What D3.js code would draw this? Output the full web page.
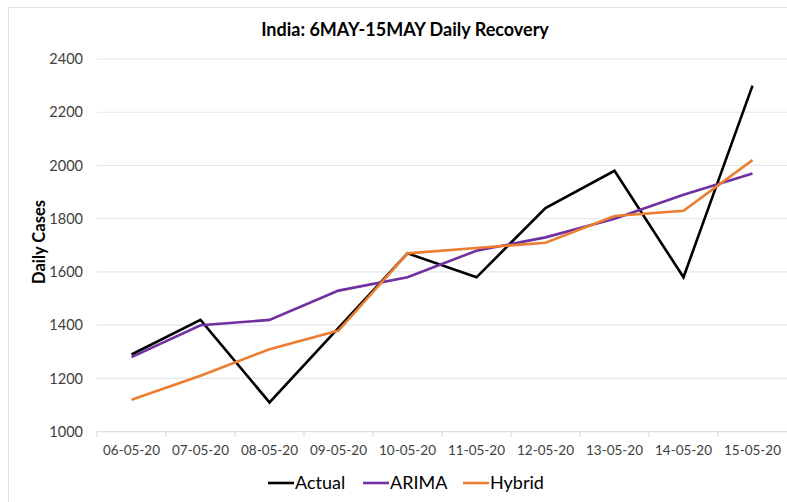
<!DOCTYPE html>
<html>
<head>
<meta charset="utf-8">
<script src="https://cdn.jsdelivr.net/npm/d3@7"></script>
<style>
  body { margin: 0; background: #fff; }
  svg { font-family: Lato, "Open Sans", sans-serif; }
</style>
</head>
<body>
<div id="chart"></div>
<script>
// Chart values
const dates = ["06-05-20", "07-05-20", "08-05-20", "09-05-20", "10-05-20",
               "11-05-20", "12-05-20", "13-05-20", "14-05-20", "15-05-20"];
const actual = [1290, 1420, 1110, 1390, 1670, 1580, 1840, 1980, 1580, 2300];
const arima  = [1280, 1400, 1420, 1530, 1580, 1680, 1730, 1800, 1890, 1970];
const hybrid = [1120, 1210, 1310, 1380, 1670, 1690, 1710, 1810, 1830, 2020];
const yTicks = [1000, 1200, 1400, 1600, 1800, 2000, 2200, 2400];

const series = [
    { name: "Actual", values: actual, color: "#000000" },
    { name: "ARIMA", values: arima, color: "#7030a0" },
    { name: "Hybrid", values: hybrid, color: "#ed7d31" }
];

const width = 787;
const height = 502;
const margin = { top: 59, right: 0, bottom: 70, left: 97 };

const svg = d3.select("#chart")
    .append("svg")
    .attr("width", width)
    .attr("height", height);

// outer chart border (runs off the right and bottom edges)
svg.append("rect")
    .attr("x", 8.5)
    .attr("y", 7.5)
    .attr("width", width + 10)
    .attr("height", height + 10)
    .attr("fill", "none")
    .attr("stroke", "#dde0e8")
    .attr("stroke-width", 1);

const x = d3.scaleBand()
    .domain(dates)
    .range([margin.left, width - margin.right]);

const y = d3.scaleLinear()
    .domain([1000, 2400])
    .range([431.7, margin.top]);

// gridlines
svg.append("g")
    .selectAll("line")
    .data(yTicks.slice(1))
    .enter().append("line")
    .attr("x1", margin.left)
    .attr("x2", width)
    .attr("y1", d => y(d))
    .attr("y2", d => y(d))
    .attr("stroke", "#e3e6ee")
    .attr("stroke-width", 1.2);

// y tick labels
svg.append("g")
    .selectAll("text")
    .data(yTicks)
    .enter().append("text")
    .attr("x", 83)
    .attr("y", d => y(d))
    .attr("dy", "0.35em")
    .attr("text-anchor", "end")
    .attr("font-size", 14.5)
    .attr("fill", "#404040")
    .text(d => d);

// x axis with ticks between categories
const xAxis = svg.append("g")
    .attr("transform", `translate(0,${y(1000)})`);

xAxis.append("line")
    .attr("x1", margin.left)
    .attr("x2", width)
    .attr("stroke", "#d9dce4")
    .attr("stroke-width", 1.2);

xAxis.selectAll(".tick")
    .data(dates)
    .enter().append("line")
    .attr("x1", d => x(d))
    .attr("x2", d => x(d))
    .attr("y1", 0)
    .attr("y2", 5)
    .attr("stroke", "#d9dce4")
    .attr("stroke-width", 1.2);

xAxis.selectAll("text")
    .data(dates)
    .enter().append("text")
    .attr("x", d => x(d) + x.bandwidth() / 2)
    .attr("y", 19)
    .attr("dy", "0.35em")
    .attr("text-anchor", "middle")
    .attr("font-size", 13.5)
    .attr("fill", "#404040")
    .text(d => d);

// lines
const line = d3.line()
    .x((d, i) => x(dates[i]) + x.bandwidth() / 2)
    .y(d => y(d));

svg.append("g")
    .selectAll("path")
    .data(series)
    .enter().append("path")
    .attr("d", d => line(d.values))
    .attr("fill", "none")
    .attr("stroke", d => d.color)
    .attr("stroke-width", 2.6)
    .attr("stroke-linejoin", "miter");

// title
svg.append("text")
    .attr("x", 405)
    .attr("y", 30)
    .attr("dy", "0.35em")
    .attr("text-anchor", "middle")
    .attr("font-size", 18)
    .attr("font-weight", "bold")
    .attr("fill", "#000")
    .text("India: 6MAY-15MAY Daily Recovery");

// y axis title
svg.append("text")
    .attr("transform", "translate(39,242) rotate(-90)")
    .attr("dy", "0.35em")
    .attr("text-anchor", "middle")
    .attr("font-size", 16.5)
    .attr("font-weight", "bold")
    .attr("fill", "#000")
    .text("Daily Cases");

// legend
const legendX = [268, 363, 463];
const legend = svg.append("g")
    .selectAll("g")
    .data(series)
    .enter().append("g")
    .attr("transform", (d, i) => `translate(${legendX[i]},483)`);

legend.append("line")
    .attr("x1", 0)
    .attr("x2", 26)
    .attr("stroke", d => d.color)
    .attr("stroke-width", 2.6);

legend.append("text")
    .attr("x", 27)
    .attr("dy", "0.35em")
    .attr("font-size", 18)
    .attr("fill", "#000")
    .text(d => d.name);
</script>
</body>
</html>
